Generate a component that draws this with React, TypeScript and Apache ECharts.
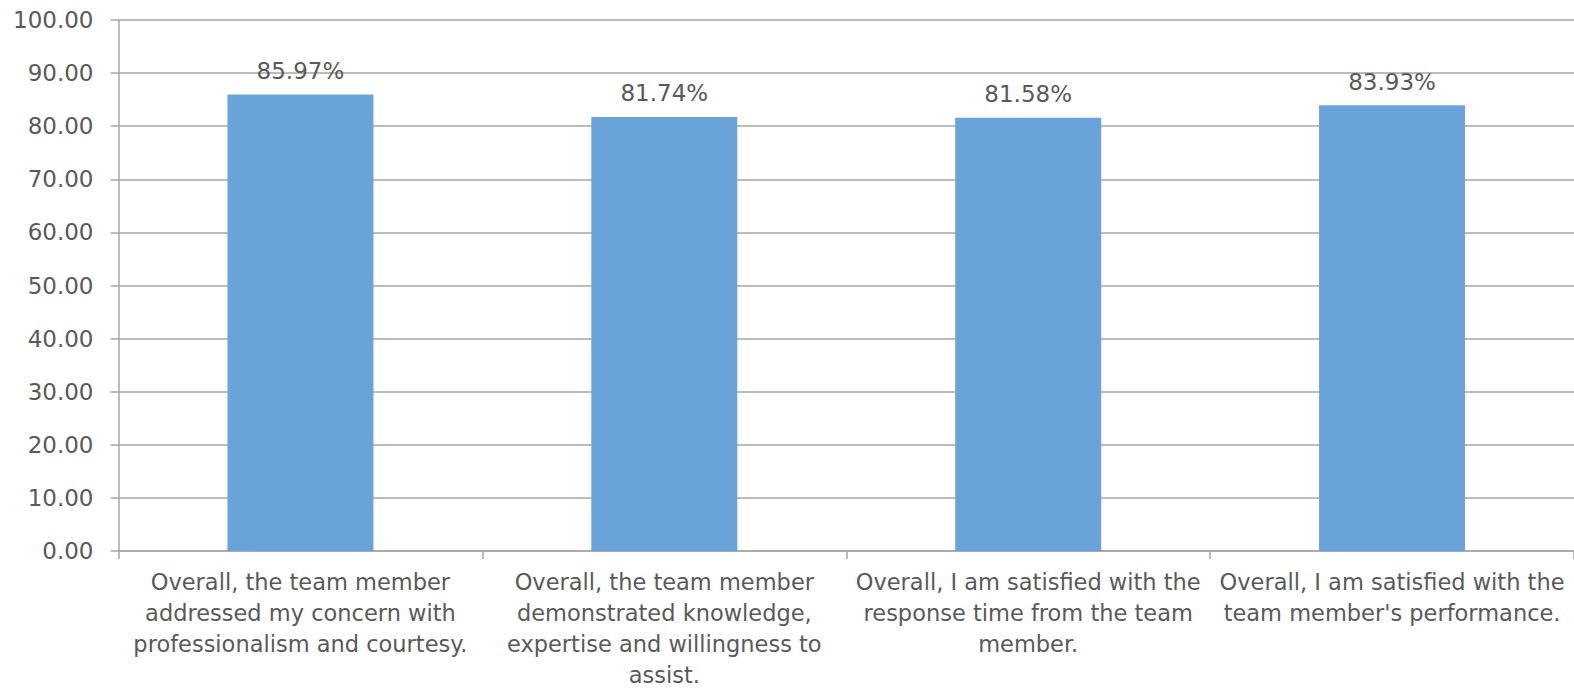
import React, { useEffect, useRef } from "react";
import * as echarts from "echarts";

const categories = [
  "Overall, the team member\naddressed my concern with\nprofessionalism and courtesy.",
  "Overall, the team member\ndemonstrated knowledge,\nexpertise and willingness to\nassist.",
  "Overall, I am satisfied with the\nresponse time from the team\nmember.",
  "Overall, I am satisfied with the\nteam member's performance.",
];
const values = [85.97, 81.74, 81.58, 83.93];

const FONT = "DejaVu Sans";
const TXT = "#595959";
const LINE = "#a6a6a6";

export default function App() {
  const ref = useRef<HTMLDivElement>(null);
  useEffect(() => {
    if (!ref.current) return;
    const chart = echarts.init(ref.current, null, { renderer: "svg" });
    chart.setOption({
      animation: false,
      backgroundColor: "#ffffff",
      grid: { left: 118.5, right: -5, top: 20, bottom: 135, containLabel: false },
      xAxis: {
        type: "category",
        data: categories,
        axisLine: { show: true, lineStyle: { color: LINE, width: 1.5 } },
        axisTick: { show: true, length: 8, lineStyle: { color: LINE, width: 1.5 } },
        axisLabel: {
          interval: 0,
          margin: 15,
          color: TXT,
          fontFamily: FONT,
          fontSize: 22.5,
          lineHeight: 31,
        },
      },
      yAxis: {
        type: "value",
        min: 0,
        max: 100,
        interval: 10,
        axisLine: { show: true, lineStyle: { color: LINE, width: 1.5 } },
        axisTick: { show: true, length: 8, lineStyle: { color: LINE, width: 1.5 } },
        splitLine: { show: true, lineStyle: { color: LINE, width: 1.5 } },
        axisLabel: {
          margin: 25,
          color: TXT,
          fontFamily: FONT,
          fontSize: 23,
          formatter: (v: number) => v.toFixed(2),
        },
      },
      series: [
        {
          type: "bar",
          data: values,
          barWidth: 146,
          itemStyle: { color: "#6aa3d9" },
          label: {
            show: true,
            position: "top",
            distance: 12,
            color: TXT,
            fontFamily: FONT,
            fontSize: 23,
            formatter: (p: any) => p.value.toFixed(2) + "%",
          },
        },
      ],
    });
    return () => chart.dispose();
  }, []);
  return (
    <div
      ref={ref}
      style={{ position: "fixed", left: 0, top: 0, width: 1574, height: 690, background: "#fff" }}
    />
  );
}
